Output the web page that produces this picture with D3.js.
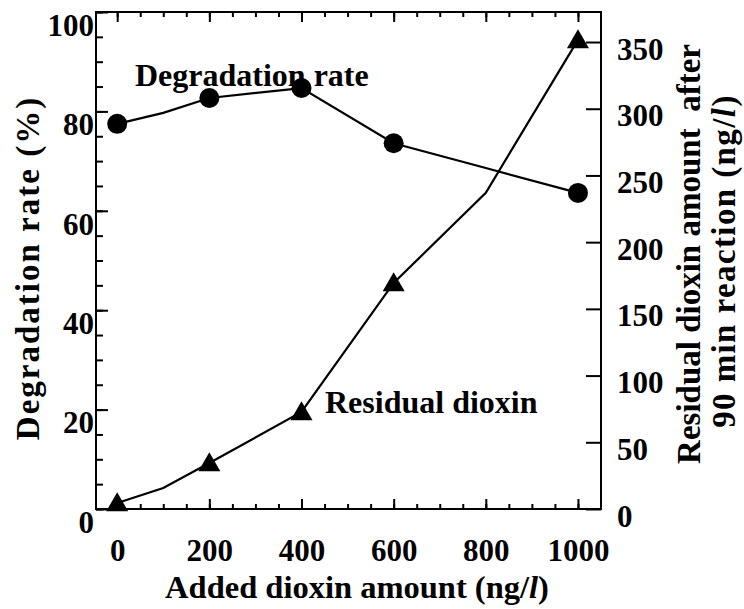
<!DOCTYPE html>
<html>
<head>
<meta charset="utf-8">
<script src="https://cdn.jsdelivr.net/npm/d3@7"></script>
<style>
  body { margin: 0; background: #fff; }
  svg text { font-family: 'Liberation Serif', 'Times New Roman', serif; font-weight: bold; fill: #000; }
</style>
</head>
<body>
<svg width="744" height="609"></svg>
<script>
// data
const added = [0, 100, 200, 400, 600, 800, 1000]
const degradation = [77.5, 79.7, 82.7, 84.7, 73.6, 68.6, 63.6]
const residual = [4.5, 15.7, 34.5, 72.7, 169.4, 237, 351.6]
const markerIdx = [0, 2, 3, 4, 6]

const xTicks = [0, 200, 400, 600, 800, 1000]
const leftTicks = [0, 20, 40, 60, 80, 100]
const rightTicks = [0, 50, 100, 150, 200, 250, 300, 350]

const plotL = 96, plotR = 601, plotT = 12, plotB = 509

const svg = d3.select('svg')

const x = d3.scaleLinear().domain([-46, 1050]).range([plotL, plotR])
const yL = d3.scaleLinear().domain([0, 100]).range([plotB, plotT])
const yR = d3.scaleLinear().domain([0, 372.5]).range([plotB, plotT])

// frame
svg.append('rect')
  .attr('x', plotL).attr('y', plotT)
  .attr('width', plotR - plotL).attr('height', plotB - plotT)
  .attr('fill', 'none').attr('stroke', '#000').attr('stroke-width', 2)

const tickStyle = g => {
  g.select('.domain').remove()
  g.selectAll('line').attr('stroke', '#000').attr('stroke-width', 2)
  g.selectAll('text').attr('font-size', 31)
}

// bottom axis (ticks inward)
svg.append('g')
  .attr('transform', `translate(0,${plotB})`)
  .call(d3.axisBottom(x).tickValues(d3.range(0, 1001, 50)).tickSize(-5).tickFormat(''))
  .call(tickStyle)
svg.append('g')
  .attr('transform', `translate(0,${plotB})`)
  .call(d3.axisBottom(x).tickValues(xTicks).tickSize(-10).tickPadding(30).tickFormat(d3.format('d')))
  .call(tickStyle)
  .selectAll('text').attr('dy', '0.71em')

// top axis
svg.append('g')
  .attr('transform', `translate(0,${plotT})`)
  .call(d3.axisTop(x).tickValues(d3.range(0, 1001, 50)).tickSize(-5).tickFormat(''))
  .call(tickStyle)
svg.append('g')
  .attr('transform', `translate(0,${plotT})`)
  .call(d3.axisTop(x).tickValues(xTicks).tickSize(-10).tickFormat(''))
  .call(tickStyle)

// left axis
svg.append('g')
  .attr('transform', `translate(${plotL},0)`)
  .call(d3.axisLeft(yL).tickValues(d3.range(0, 101, 5)).tickSize(-7).tickFormat(''))
  .call(tickStyle)
svg.append('g')
  .attr('transform', `translate(${plotL},0)`)
  .call(d3.axisLeft(yL).tickValues(leftTicks).tickSize(-12).tickPadding(2).tickFormat(d3.format('d')))
  .call(tickStyle)
  .selectAll('text').attr('dy', '0.75em')

// right axis
svg.append('g')
  .attr('transform', `translate(${plotR},0)`)
  .call(d3.axisRight(yR).tickValues(rightTicks).tickSize(-15).tickPadding(16).tickFormat(d3.format('d')))
  .call(tickStyle)
  .selectAll('text').attr('dy', '0.55em')

// lines
const pts = vals => added.map((d, i) => [d, vals[i]])
svg.append('path')
  .datum(pts(degradation))
  .attr('fill', 'none').attr('stroke', '#000').attr('stroke-width', 2.2)
  .attr('d', d3.line().x(d => x(d[0])).y(d => yL(d[1])))
svg.append('path')
  .datum(pts(residual))
  .attr('fill', 'none').attr('stroke', '#000').attr('stroke-width', 2.2)
  .attr('d', d3.line().x(d => x(d[0])).y(d => yR(d[1])))

// markers
svg.selectAll('.dot')
  .data(markerIdx)
  .enter().append('circle')
  .attr('class', 'dot')
  .attr('cx', i => x(added[i]))
  .attr('cy', i => yL(degradation[i]))
  .attr('r', 10)
  .attr('fill', '#000')

const tri = d3.symbol().type(d3.symbolTriangle).size(210)
svg.selectAll('.tri')
  .data(markerIdx)
  .enter().append('path')
  .attr('class', 'tri')
  .attr('transform', i => `translate(${x(added[i])},${yR(residual[i]) + 2})`)
  .attr('d', tri)
  .attr('fill', '#000')

// series labels
svg.append('text')
  .attr('x', 135).attr('y', 86)
  .attr('font-size', 32)
  .text('Degradation rate')
svg.append('text')
  .attr('x', 325).attr('y', 413)
  .attr('font-size', 32)
  .text('Residual dioxin')

// axis titles
const xt = svg.append('text')
  .attr('x', 357).attr('y', 598)
  .attr('text-anchor', 'middle')
  .attr('font-size', 32.5)
xt.append('tspan').text('Added dioxin amount (ng/')
xt.append('tspan').attr('font-style', 'italic').text('l')
xt.append('tspan').text(')')

svg.append('text')
  .attr('transform', 'translate(39,268) rotate(-90)')
  .attr('text-anchor', 'middle')
  .attr('font-size', 33)
  .attr('letter-spacing', 2)
  .text('Degradation rate (%)')

svg.append('text')
  .attr('transform', 'translate(700,254) rotate(-90)')
  .attr('text-anchor', 'middle')
  .attr('font-size', 33)
  .attr('xml:space', 'preserve')
  .text('Residual dioxin amount  after')

const r2 = svg.append('text')
  .attr('transform', 'translate(735,261) rotate(-90)')
  .attr('text-anchor', 'middle')
  .attr('font-size', 33)
  .attr('letter-spacing', 1.4)
r2.append('tspan').text('90 min reaction (ng/')
r2.append('tspan').attr('font-style', 'italic').text('l')
r2.append('tspan').text(')')
</script>
</body>
</html>
